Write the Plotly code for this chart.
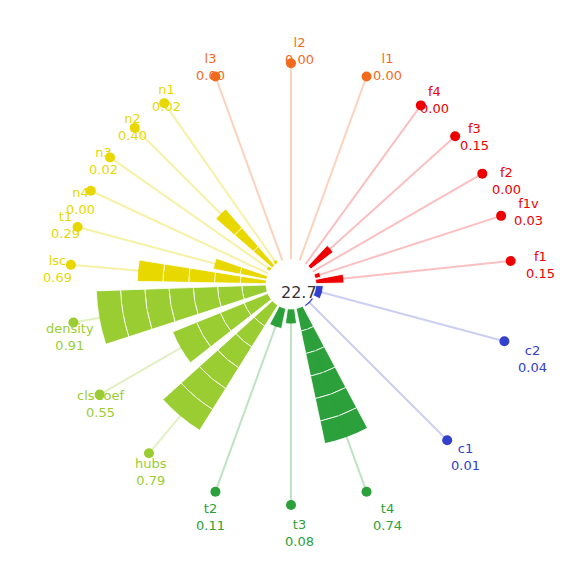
import math
import plotly.graph_objects as go

groups = [
    ("l", ["l3", "l2", "l1"], [0.00, 0.00, 0.00], "#F26B1D", "rgba(242,107,29,0.3)"),
    ("f", ["f4", "f3", "f2", "f1v", "f1"], [0.00, 0.15, 0.00, 0.03, 0.15], "#EE0000", "rgba(238,0,0,0.25)"),
    ("c", ["c2", "c1"], [0.04, 0.01], "#3340CC", "rgba(51,64,204,0.25)"),
    ("t", ["t4", "t3", "t2"], [0.74, 0.08, 0.11], "#2CA03A", "rgba(44,160,58,0.3)"),
    ("m", ["hubs", "clsCoef", "density"], [0.79, 0.55, 0.91], "#9ACD32", "rgba(154,205,50,0.3)"),
    ("y", ["lsc", "t1", "n4", "n3", "n2", "n1"], [0.69, 0.29, 0.00, 0.02, 0.40, 0.02], "#E8D800", "rgba(232,216,0,0.35)"),
]
centers = [0, 60, 120, 180, 240, 300]
center_text = "22.7"
R_DOT = 1.05
W, H = 575, 569
CX, CY = 291, 285  # center in px from left / bottom
LAB_PX = 259

fig = go.Figure()
annotations = [dict(text=center_text, x=CX / W, y=CY / H, xref="paper", yref="paper",
                    showarrow=False, font=dict(size=16, color="#333333"))]
for (g, names, vals, col, lcol), c in zip(groups, centers):
    n = len(names)
    sp = 60 / n
    if g == "l":
        sp = 20
        angs = [c - 20, c, c + 20]
    else:
        angs = [c - 30 + sp / 2 + i * sp for i in range(n)]
    for a, nm, v in zip(angs, names, vals):
        fig.add_trace(go.Scatterpolar(r=[0, R_DOT], theta=[a, a], mode="lines",
                                      line=dict(color=lcol, width=2), hoverinfo="skip", showlegend=False))
        if v > 0:
            ns = max(1, round(v / 0.13))
            fig.add_trace(go.Barpolar(r=[v / ns] * ns, theta=[a] * ns, width=[sp * 0.8] * ns,
                                      base=[v / ns * k for k in range(ns)],
                                      marker=dict(color=col, line=dict(color="white", width=0.8)),
                                      showlegend=False))
        fig.add_trace(go.Scatterpolar(r=[R_DOT], theta=[a], mode="markers",
                                      marker=dict(color=col, size=10), showlegend=False))
        rad = math.radians(a)
        annotations.append(dict(text=f"{nm}<br>{v:.2f}", xref="paper", yref="paper",
                                x=(CX + LAB_PX * math.sin(rad)) / W, y=(CY + LAB_PX * math.cos(rad)) / H,
                                showarrow=False, font=dict(color=col, size=13)))

fig.update_layout(
    width=W, height=H, margin=dict(l=0, r=0, t=0, b=0),
    paper_bgcolor="white", plot_bgcolor="white",
    barmode="overlay",
    polar=dict(
        domain=dict(x=[0.1078, 0.8765], y=[0.1265, 0.903]),
        hole=0.113, bgcolor="white",
        radialaxis=dict(range=[0, R_DOT], visible=False, showgrid=False),
        angularaxis=dict(direction="clockwise", rotation=90, visible=False, showgrid=False),
    ),
    font=dict(family="DejaVu Sans"),
    annotations=annotations,
)
fig.write_html("out.html")
